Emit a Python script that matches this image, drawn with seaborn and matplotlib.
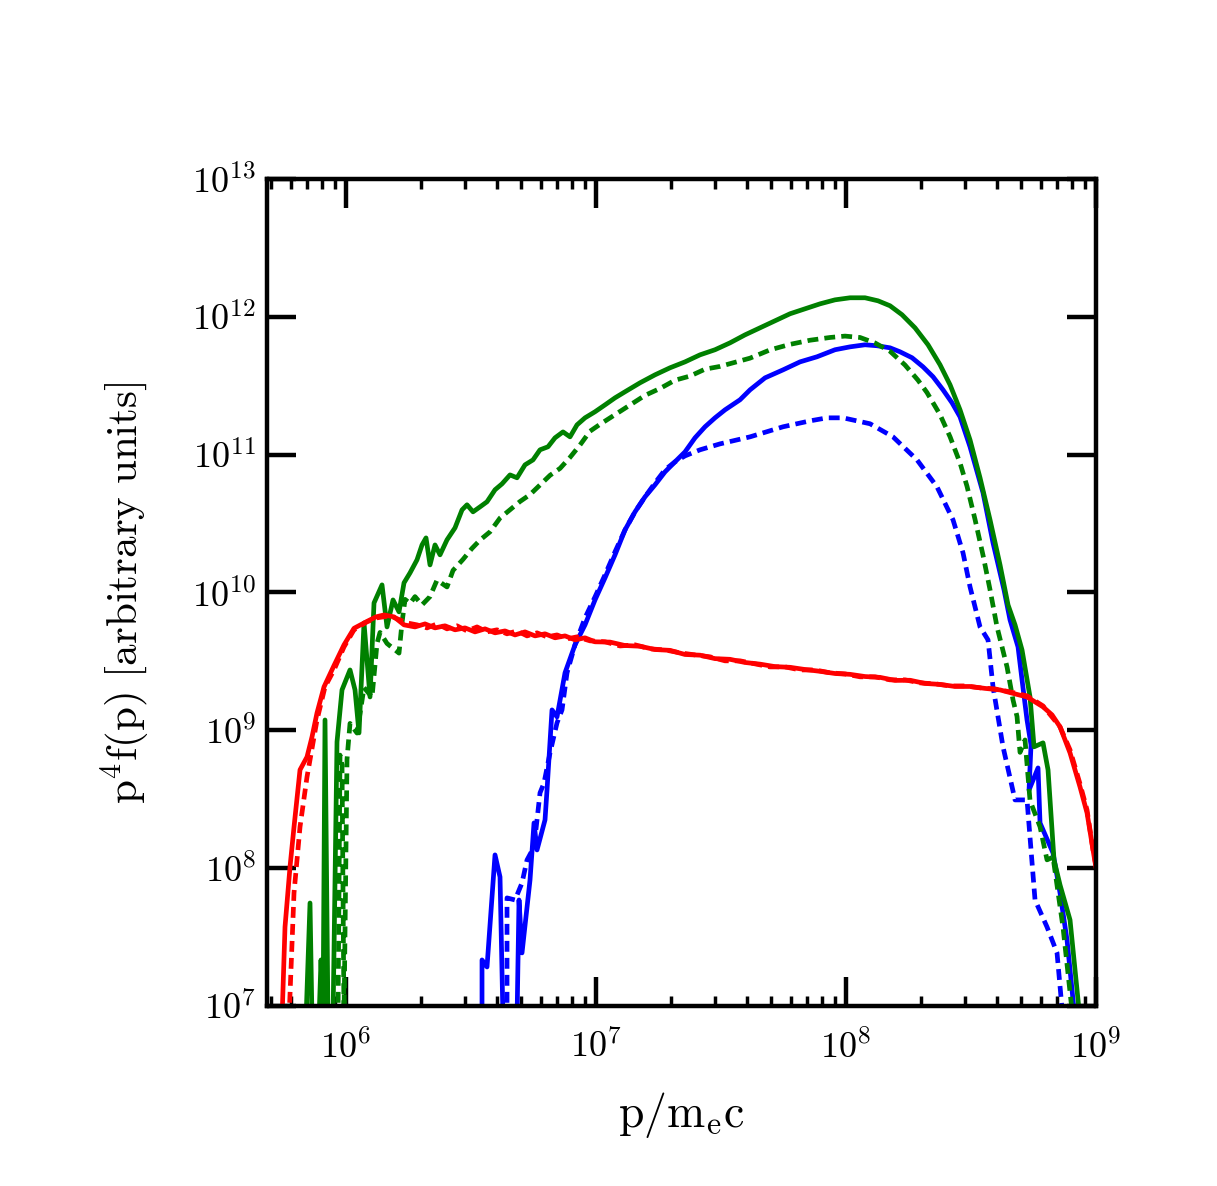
import numpy as np
import pandas as pd
import matplotlib
matplotlib.use("Agg")
import matplotlib.pyplot as plt
import seaborn as sns
from matplotlib.ticker import LogLocator, NullLocator, NullFormatter, FuncFormatter

# ---- data: log10(p/m_e c) and log10(p^4 f(p)) ----
red_solid_lp = [5.744, 5.756, 5.776, 5.792, 5.816, 5.844, 5.864, 5.884, 5.912, 5.952, 5.992, 6.032,
                6.084, 6.120, 6.152, 6.192, 6.232, 6.276, 6.316, 6.356, 6.396, 6.436, 6.476, 6.516,
                6.556, 6.596, 6.636, 6.676, 6.716, 6.756, 6.796, 6.836, 6.876, 6.916, 6.956, 6.996,
                7.056, 7.116, 7.176, 7.236, 7.296, 7.356, 7.416, 7.476, 7.536, 7.596, 7.656, 7.716,
                7.776, 7.836, 7.896, 7.956, 8.016, 8.076, 8.136, 8.196, 8.256, 8.316, 8.376, 8.436,
                8.496, 8.556, 8.616, 8.676, 8.724, 8.788, 8.824, 8.856, 8.896, 8.936, 8.964, 8.988, 9.000]
red_solid_lf = [6.90, 7.573, 8.009, 8.299, 8.713, 8.807, 8.952, 9.126, 9.315, 9.470, 9.620, 9.740,
                9.790, 9.823, 9.837, 9.823, 9.765, 9.750, 9.772, 9.743, 9.758, 9.729, 9.743, 9.714,
                9.736, 9.707, 9.721, 9.692, 9.714, 9.685, 9.700, 9.671, 9.685, 9.656, 9.671, 9.642,
                9.640, 9.615, 9.610, 9.586, 9.580, 9.550, 9.545, 9.520, 9.515, 9.492, 9.480, 9.462,
                9.457, 9.441, 9.428, 9.412, 9.406, 9.390, 9.384, 9.362, 9.363, 9.340, 9.333, 9.318,
                9.318, 9.304, 9.293, 9.264, 9.242, 9.170, 9.112, 9.025, 8.836, 8.589, 8.401, 8.132, 8.001]

red_dash_lp = [5.772, 5.792, 5.816, 5.844, 5.884, 5.916, 5.952, 5.992, 6.032, 6.084, 6.124, 6.176,
               6.216, 6.244, 6.284, 6.324, 6.364, 6.404, 6.444, 6.484, 6.524, 6.564, 6.604, 6.644,
               6.684, 6.724, 6.764, 6.804, 6.844, 6.884, 6.924, 6.976, 7.036, 7.096, 7.156, 7.216,
               7.276, 7.336, 7.396, 7.456, 7.516, 7.576, 7.636, 7.696, 7.756, 7.816, 7.876, 7.936,
               7.996, 8.056, 8.116, 8.176, 8.236, 8.296, 8.356, 8.416, 8.476, 8.536, 8.596, 8.656,
               8.724, 8.788, 8.856, 8.896, 8.936, 8.964, 8.988, 9.000]
red_dash_lf = [6.90, 7.820, 8.299, 8.662, 9.075, 9.315, 9.438, 9.605, 9.729, 9.787, 9.816, 9.830,
               9.801, 9.779, 9.765, 9.743, 9.772, 9.736, 9.758, 9.721, 9.750, 9.714, 9.729, 9.700,
               9.721, 9.685, 9.707, 9.678, 9.692, 9.663, 9.678, 9.649, 9.642, 9.612, 9.620, 9.591,
               9.583, 9.562, 9.547, 9.533, 9.504, 9.504, 9.482, 9.460, 9.460, 9.438, 9.438, 9.417,
               9.409, 9.388, 9.388, 9.366, 9.366, 9.344, 9.337, 9.322, 9.322, 9.308, 9.300, 9.279,
               9.250, 9.177, 9.025, 8.858, 8.611, 8.422, 8.132, 8.016]

green_solid_lp = [5.840, 5.856, 5.864, 5.892, 5.900, 5.908, 5.916, 5.928, 5.948, 5.964, 5.984, 6.016,
                  6.036, 6.052, 6.072, 6.096, 6.112, 6.144, 6.164, 6.188, 6.212, 6.232, 6.256, 6.284,
                  6.304, 6.320, 6.336, 6.356, 6.376, 6.404, 6.436, 6.464, 6.484, 6.508, 6.536, 6.564,
                  6.596, 6.624, 6.656, 6.684, 6.716, 6.748, 6.776, 6.808, 6.836, 6.868, 6.896, 6.924,
                  6.956, 6.996, 7.036, 7.076, 7.116, 7.176, 7.236, 7.296, 7.356, 7.416, 7.476, 7.536,
                  7.596, 7.656, 7.716, 7.776, 7.836, 7.896, 7.956, 8.016, 8.076, 8.128, 8.176, 8.224,
                  8.276, 8.328, 8.376, 8.416, 8.456, 8.496, 8.536, 8.576, 8.616, 8.648, 8.676, 8.704,
                  8.736, 8.752, 8.788, 8.808, 8.832, 8.856, 8.896, 8.936]
green_solid_lf = [6.90, 7.747, 6.90, 6.90, 7.334, 6.90, 9.075, 6.90, 6.90, 8.916, 9.293, 9.438,
                  9.293, 8.981, 9.779, 9.242, 9.924, 10.055, 9.750, 9.946, 9.859, 10.070, 10.142, 10.237,
                  10.345, 10.396, 10.200, 10.345, 10.273, 10.382, 10.469, 10.599, 10.636, 10.585, 10.621, 10.658,
                  10.745, 10.788, 10.853, 10.832, 10.926, 10.962, 11.035, 11.057, 11.122, 11.165, 11.129, 11.216,
                  11.267, 11.311, 11.361, 11.412, 11.456, 11.521, 11.579, 11.630, 11.673, 11.724, 11.761, 11.811,
                  11.869, 11.920, 11.971, 12.022, 12.058, 12.094, 12.123, 12.138, 12.138, 12.116, 12.080, 12.015,
                  11.920, 11.797, 11.652, 11.507, 11.325, 11.107, 10.832, 10.527, 10.200, 9.910, 9.765, 9.583,
                  9.242, 8.880, 8.909, 8.713, 8.059, 7.878, 7.624, 6.90]

green_dash_lp = [5.968, 5.976, 5.984, 5.992, 6.004, 6.016, 6.044, 6.072, 6.104, 6.124, 6.136, 6.164,
                 6.212, 6.224, 6.236,
                 6.256, 6.276, 6.304, 6.336, 6.364, 6.404, 6.428, 6.468, 6.504, 6.536, 6.576, 6.616,
                 6.656, 6.696, 6.736, 6.776, 6.816, 6.856, 6.896, 6.936, 6.976, 7.016, 7.076, 7.136,
                 7.196, 7.256, 7.316, 7.376, 7.436, 7.496, 7.556, 7.616, 7.696, 7.776, 7.856, 7.936,
                 7.996, 8.056, 8.116, 8.176, 8.236, 8.288, 8.324, 8.376, 8.416, 8.456, 8.484, 8.516,
                 8.548, 8.576, 8.604, 8.644, 8.668, 8.684, 8.696, 8.716, 8.736, 8.776, 8.804, 8.828,
                 8.868, 8.908]
green_dash_lf = [6.90, 8.82, 8.75, 6.90, 8.79, 9.05, 8.98, 9.31, 9.24, 9.63, 9.71, 9.63,
                 9.56, 9.78, 9.95,
                 9.92, 9.97, 9.91, 9.97, 10.09, 10.04, 10.16, 10.24, 10.32, 10.38, 10.44, 10.54,
                 10.60, 10.66, 10.71, 10.78, 10.85, 10.90, 10.98, 11.07, 11.17, 11.22, 11.29, 11.36,
                 11.43, 11.48, 11.54, 11.57, 11.62, 11.64, 11.67, 11.70, 11.76, 11.80, 11.83, 11.85,
                 11.86, 11.85, 11.81, 11.75, 11.65, 11.54, 11.45, 11.29, 11.13, 10.94, 10.77, 10.53,
                 10.27, 10.02, 9.75, 9.46, 9.22, 9.10, 8.84, 8.93, 8.49, 8.30, 8.06, 8.08,
                 7.57, 6.90]

blue_solid_lp = [6.544, 6.544, 6.564, 6.596, 6.616, 6.628, 6.684, 6.692, 6.704, 6.736, 6.752, 6.764,
                 6.796, 6.804, 6.824, 6.844, 6.876, 6.916, 6.956, 6.996, 7.036, 7.076, 7.116, 7.156,
                 7.196, 7.236, 7.276, 7.316, 7.356, 7.396, 7.436, 7.476, 7.516, 7.576, 7.616, 7.676,
                 7.748, 7.816, 7.884, 7.956, 8.016, 8.076, 8.124, 8.176, 8.216, 8.264, 8.308, 8.348,
                 8.388, 8.424, 8.456, 8.496, 8.548, 8.588, 8.632, 8.656, 8.688, 8.704, 8.724, 8.740,
                 8.732, 8.768, 8.776, 8.828, 8.856, 8.884, 8.916]
blue_solid_lf = [6.90, 7.334, 7.283, 8.096, 7.936, 6.90, 6.90, 7.769, 7.385, 7.914, 8.328, 8.132,
                 8.350, 8.567, 9.148, 9.097, 9.417, 9.620, 9.765, 9.946, 10.106, 10.273, 10.454, 10.585,
                 10.694, 10.781, 10.875, 10.948, 11.020, 11.122, 11.202, 11.267, 11.325, 11.398, 11.470, 11.557,
                 11.615, 11.673, 11.710, 11.761, 11.782, 11.797, 11.790, 11.775, 11.746, 11.703, 11.637, 11.565,
                 11.470, 11.376, 11.274, 11.057, 10.723, 10.360, 10.019, 9.801, 9.605, 9.366, 9.075, 8.894,
                 8.567, 8.727, 8.328, 8.110, 7.820, 7.479, 6.90]

blue_dash_lp = [6.644, 6.644, 6.676, 6.704, 6.724, 6.752, 6.776, 6.792, 6.816, 6.844, 6.864, 6.884,
                6.916, 6.956, 6.996, 7.036, 7.076, 7.116, 7.156, 7.196, 7.236, 7.276, 7.316, 7.356,
                7.416, 7.496, 7.616, 7.748, 7.856, 7.924, 7.988, 8.096, 8.188, 8.284, 8.364, 8.428,
                8.468, 8.496, 8.536, 8.568, 8.588, 8.628, 8.676, 8.724, 8.756, 8.804, 8.844, 8.868]
blue_dash_lf = [6.90, 7.784, 7.769, 7.893, 8.059, 8.154, 8.546, 8.618, 8.836, 9.054, 9.148, 9.417,
                9.620, 9.816, 9.968, 10.128, 10.295, 10.454, 10.585, 10.694, 10.795, 10.890, 10.948, 10.991,
                11.035, 11.078, 11.129, 11.202, 11.245, 11.267, 11.267, 11.224, 11.129, 10.962, 10.766, 10.527,
                10.287, 10.041, 9.750, 9.656, 9.315, 8.880, 8.495, 8.495, 7.769, 7.573, 7.385, 6.90]

x_ticks_exp = [6, 7, 8, 9]
y_ticks_exp = [7, 8, 9, 10, 11, 12, 13]
x_label = r"$\mathrm{p/m_ec}$"
y_label = r"$\mathrm{p^4f(p)\ [arbitrary\ units]}$"

# ---- style ----
sns.set_theme(style="ticks")
plt.rcParams.update({
    "font.family": ["DejaVu Serif"],
    "mathtext.fontset": "cm",
    "lines.dashed_pattern": [2.3, 1.3],
    "axes.linewidth": 3.2,
    "text.color": "black",
    "axes.labelcolor": "black",
    "xtick.color": "black",
    "ytick.color": "black",
    "axes.edgecolor": "black",
})

fig = plt.figure(figsize=(12.17, 11.86), dpi=100)
ax = fig.add_axes([0.2194, 0.1518, 0.6812, 0.6973])
ax.set_xscale("log")
ax.set_yscale("log")

curves = [
    (blue_solid_lp, blue_solid_lf, "#0000ff", "-"),
    (blue_dash_lp, blue_dash_lf, "#0000ff", "--"),
    (green_solid_lp, green_solid_lf, "#008000", "-"),
    (green_dash_lp, green_dash_lf, "#008000", "--"),
    (red_dash_lp, red_dash_lf, "#ff0000", "--"),
    (red_solid_lp, red_solid_lf, "#ff0000", "-"),
]
for lp, lf, col, ls in curves:
    df = pd.DataFrame({"p": np.power(10.0, lp), "f": np.power(10.0, lf)})
    sns.lineplot(data=df, x="p", y="f", ax=ax, color=col, linestyle=ls,
                 linewidth=3.4, sort=False, estimator=None)

ax.set_xlim(10 ** 5.684, 1e9)
ax.set_ylim(1e7, 1e13)

ax.xaxis.set_minor_locator(LogLocator(base=10, subs=np.arange(2, 10), numticks=100))
ax.xaxis.set_minor_formatter(NullFormatter())
ax.set_xticks([10.0 ** e for e in x_ticks_exp])
ax.set_yticks([10.0 ** e for e in y_ticks_exp])
ax.yaxis.set_minor_locator(NullLocator())
fmt = FuncFormatter(lambda v, pos: r"$10^{%d}$" % int(round(np.log10(v))))
ax.xaxis.set_major_formatter(fmt)
ax.yaxis.set_major_formatter(fmt)

ax.tick_params(which="both", direction="in", top=True, right=True,
               colors="black", labelcolor="black")
ax.tick_params(which="major", length=21, width=3.2, labelsize=26)
ax.tick_params(which="minor", length=7, width=2.5)
ax.tick_params(axis="x", which="major", pad=17)
ax.tick_params(axis="y", which="major", pad=8)
for s in ax.spines.values():
    s.set_color("black")
    s.set_linewidth(3.2)

ax.set_xlabel(x_label, fontsize=33, labelpad=18, color="black")
ax.set_ylabel(y_label, fontsize=31, labelpad=28, color="black")

fig.savefig("out.png", dpi=100, facecolor="white")
